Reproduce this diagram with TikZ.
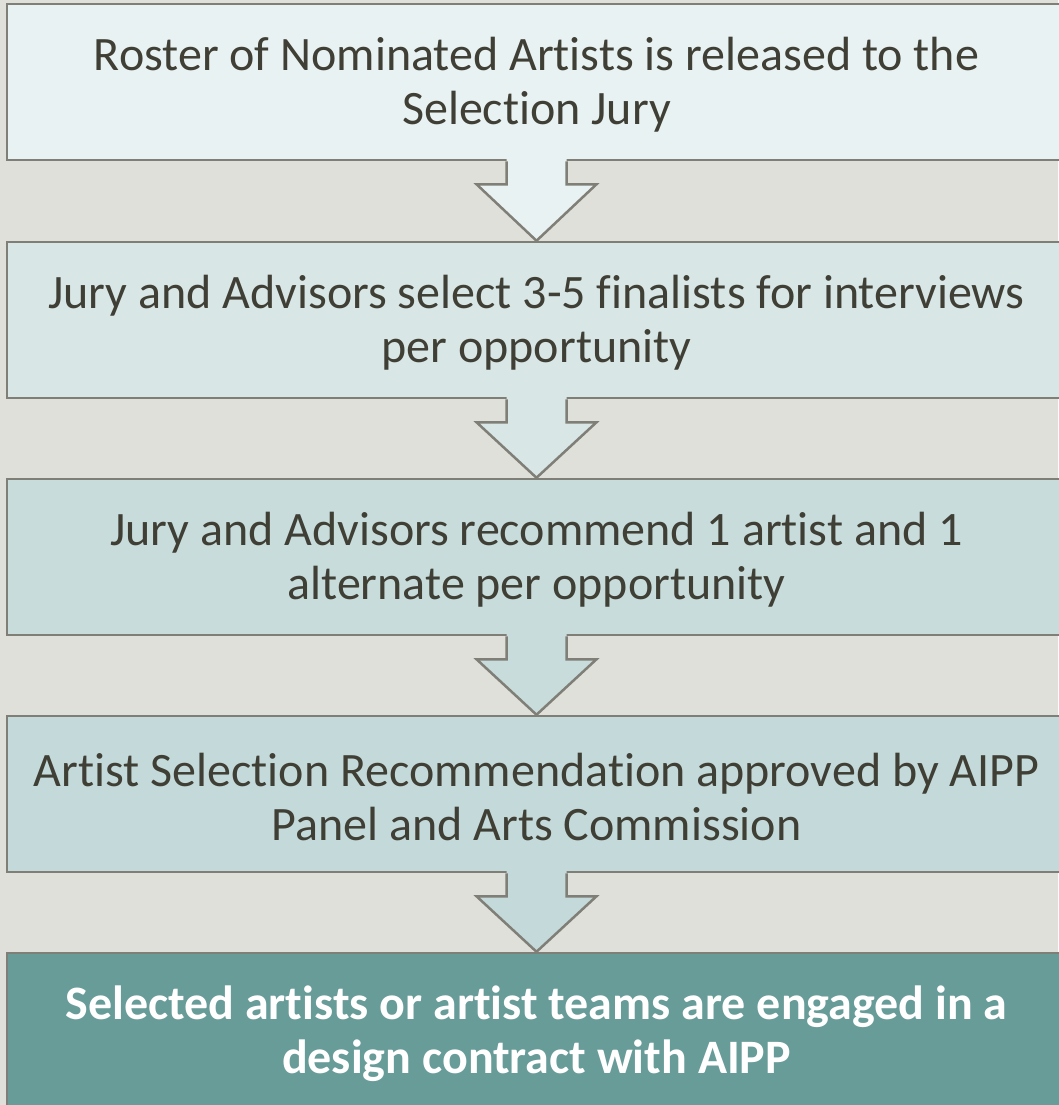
\documentclass[tikz,border=0pt]{standalone}
\usepackage{fontspec}
\setmainfont{Carlito}[Ligatures=NoCommon]
\usetikzlibrary{calc}

\definecolor{bgcol}{HTML}{E0E0DA}
\definecolor{edgecol}{HTML}{7F7F77}
\definecolor{txtcol}{HTML}{3F3F35}
\definecolor{stageA}{HTML}{E9F2F2}
\definecolor{stageB}{HTML}{D8E6E6}
\definecolor{stageC}{HTML}{C8DCDC}
\definecolor{stageD}{HTML}{C4D9D9}
\definecolor{stageE}{HTML}{689C99}

\tikzset{
  stagebox/.style={draw=edgecol, line width=2.5pt, minimum width=1059pt,
    minimum height=156pt, inner sep=0pt},
  stagetext/.style={inner sep=0pt, align=center, text=txtcol,
    font=\fontsize{48}{54}\selectfont},
  flowline/.style={draw=edgecol, line width=2.5pt, line join=miter}
}

\begin{document}
\begin{tikzpicture}[x=1pt, y=-1pt]
      \fill[bgcol] (0,0) rectangle (1058,1105);
      \useasboundingbox (0,0) rectangle (1058,1105);

      \node[stagebox, fill=stageA] (roster) at (536.5, 82) {};
      \node[stagebox, fill=stageB] (finalists) at (536.5, 320) {};
      \node[stagebox, fill=stageC] (recommend) at (536.5, 557) {};
      \node[stagebox, fill=stageD] (approved) at (536.5, 794) {};
      \node[stagebox, fill=stageE] (contract) at (536.5, 1031) {};

      \node[stagetext] (rosterlabel) at ($(roster)+(0,3)$) {Roster of Nominated Artists is released to the\\Selection Jury};
      \node[stagetext] (finalistslabel) at ($(finalists)+(0,3)$) {Jury and Advisors select 3-5 finalists for interviews\\per opportunity};
      \node[stagetext] (recommendlabel) at ($(recommend)+(0,3)$) {Jury and Advisors recommend 1 artist and 1\\alternate per opportunity};
      \node[stagetext] (approvedlabel) at ($(approved)+(0,3)$) {Artist Selection Recommendation approved by AIPP\\Panel and Arts Commission};
      \node[stagetext, text=white, font=\fontsize{48}{54}\selectfont\bfseries] (contractlabel) at ($(contract)+(0,3)$) {Selected artists or artist teams are engaged in a\\design contract with AIPP};

      % block arrows between the stages
      \foreach \a/\b/\c in {roster/finalists/stageA, finalists/recommend/stageB,
                            recommend/approved/stageC, approved/contract/stageD} {
        \fill[\c] ($(\a.south)+(-30,-3)$) -- ($(\a.south)+(-30,23)$) -- ($(\a.south)+(-60,23)$)
          -- (\b.north) -- ($(\a.south)+(60,23)$) -- ($(\a.south)+(30,23)$) -- ($(\a.south)+(30,-3)$) -- cycle;
        \draw[flowline] ($(\a.south)+(-30,0)$) -- ($(\a.south)+(-30,23)$) -- ($(\a.south)+(-60,23)$)
          -- (\b.north) -- ($(\a.south)+(60,23)$) -- ($(\a.south)+(30,23)$) -- ($(\a.south)+(30,0)$);
      }
\end{tikzpicture}
\end{document}
